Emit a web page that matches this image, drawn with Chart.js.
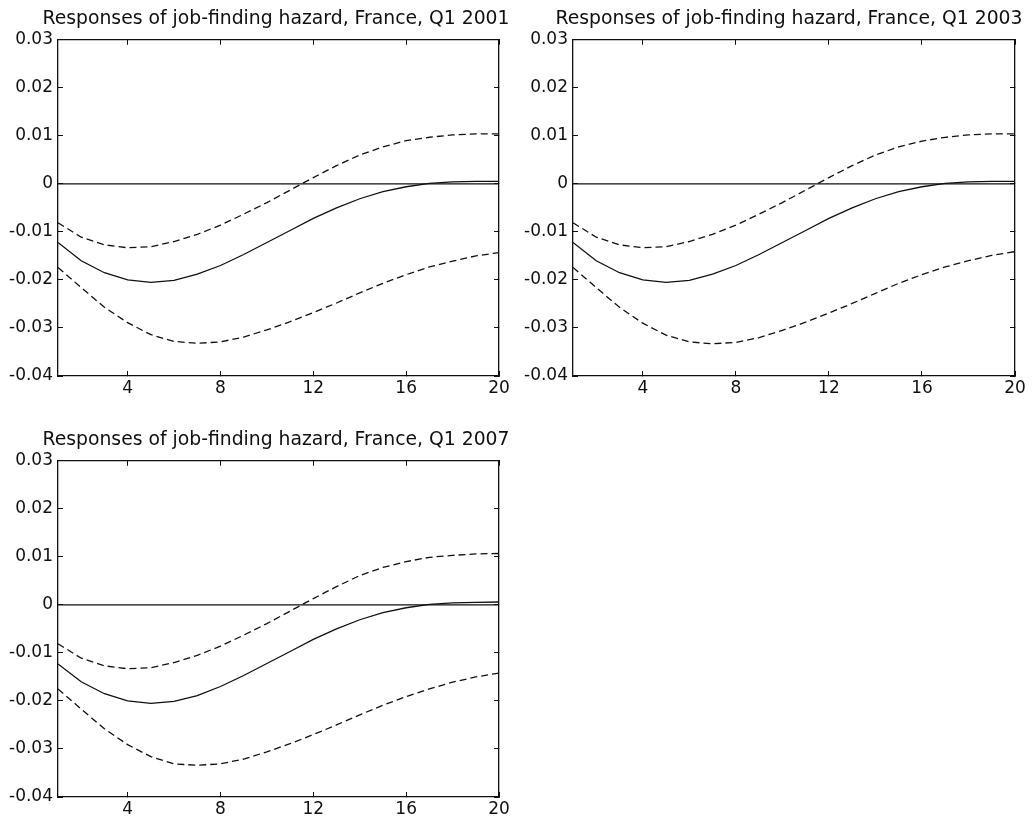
<!DOCTYPE html>
<html>
<head>
<meta charset="utf-8">
<title>Job-finding hazard responses, France</title>
<script src="https://cdn.jsdelivr.net/npm/chart.js@4.4.1/dist/chart.umd.min.js"></script>
<style>
  body { margin: 0; background: #fff; overflow: hidden; }
  canvas.panel { position: absolute; }
</style>
</head>
<body>
<canvas id="q2001" class="panel" style="left:0;top:0" width="552" height="410"></canvas>
<canvas id="q2003" class="panel" style="left:520px;top:0" width="538" height="410"></canvas>
<canvas id="q2007" class="panel" style="left:0;top:420px" width="552" height="398"></canvas>
<script>
// horizon in quarters
const quarters = [1, 2, 3, 4, 5, 6, 7, 8, 9, 10, 11, 12, 13, 14, 15, 16, 17, 18, 19, 20];
const xTickValues = [4, 8, 12, 16, 20];
const yMin = -0.04, yMax = 0.03, yStep = 0.01;

// Q1 2001 vintage: point response and bands
const resp2001  = [-0.0122, -0.0160, -0.0185, -0.0200, -0.0205, -0.0201, -0.0188, -0.0170, -0.0147, -0.0122,
                   -0.0097, -0.0072, -0.0050, -0.0031, -0.0016, -0.0006, 0.0001, 0.0004, 0.0005, 0.0005];
const upper2001 = [-0.0081, -0.0111, -0.0127, -0.0133, -0.0131, -0.0120, -0.0105, -0.0086, -0.0063, -0.0039,
                   -0.0013, 0.0013, 0.0038, 0.0060, 0.0077, 0.0090, 0.0097, 0.0102, 0.0104, 0.0104];
const lower2001 = [-0.0174, -0.0216, -0.0257, -0.0289, -0.0314, -0.0328, -0.0332, -0.0329, -0.0319, -0.0304,
                   -0.0287, -0.0268, -0.0248, -0.0227, -0.0207, -0.0189, -0.0173, -0.0161, -0.0150, -0.0143];

// Q1 2003 vintage
const resp2003  = [-0.0122, -0.0160, -0.0185, -0.0200, -0.0205, -0.0201, -0.0188, -0.0170, -0.0147, -0.0122,
                   -0.0097, -0.0072, -0.0050, -0.0031, -0.0016, -0.0006, 0.0001, 0.0004, 0.0005, 0.0005];
const upper2003 = [-0.0081, -0.0111, -0.0127, -0.0133, -0.0131, -0.0120, -0.0105, -0.0086, -0.0063, -0.0039,
                   -0.0013, 0.0013, 0.0038, 0.0060, 0.0077, 0.0089, 0.0097, 0.0102, 0.0104, 0.0104];
const lower2003 = [-0.0174, -0.0216, -0.0257, -0.0290, -0.0315, -0.0329, -0.0333, -0.0330, -0.0320, -0.0305,
                   -0.0288, -0.0269, -0.0249, -0.0228, -0.0207, -0.0189, -0.0173, -0.0160, -0.0149, -0.0141];

// Q1 2007 vintage
const resp2007  = [-0.0123, -0.0160, -0.0185, -0.0200, -0.0205, -0.0201, -0.0189, -0.0170, -0.0147, -0.0122,
                   -0.0097, -0.0072, -0.0050, -0.0031, -0.0016, -0.0006, 0.0001, 0.0004, 0.0005, 0.0006];
const upper2007 = [-0.0081, -0.0111, -0.0127, -0.0133, -0.0131, -0.0120, -0.0105, -0.0086, -0.0063, -0.0039,
                   -0.0013, 0.0013, 0.0038, 0.0061, 0.0078, 0.0090, 0.0099, 0.0103, 0.0106, 0.0107];
const lower2007 = [-0.0175, -0.0217, -0.0258, -0.0291, -0.0316, -0.0331, -0.0334, -0.0331, -0.0321, -0.0306,
                   -0.0289, -0.0270, -0.0250, -0.0229, -0.0209, -0.0191, -0.0175, -0.0161, -0.0150, -0.0142];

const zeroLine = [{x: 1, y: 0}, {x: 20, y: 0}];

const ink = '#111011';
const tickFont = { family: "'DejaVu Sans', sans-serif", size: 17 };
const titleFont = { family: "'DejaVu Sans', sans-serif", size: 18.8, weight: 'normal' };

function pairs(values) {
  return quarters.map((q, i) => ({ x: q, y: values[i] }));
}

function fmtY(v) {
  return Math.abs(v) < 1e-9 ? '0' : v.toFixed(2);
}

function line(data, dash) {
  return {
    data: data,
    borderColor: ink,
    borderWidth: 1.3,
    borderDash: dash,
    pointRadius: 0,
    tension: 0,
    fill: false
  };
}

// box.left / box.right: gutters either side of the plot (the title centres on the canvas)
function panel(id, title, resp, upper, lower, box) {
  const sideGrid = { drawOnChartArea: false, tickLength: -5, color: ink, lineWidth: 1 };
  const border = { display: true, color: ink, width: 1.3 };
  new Chart(document.getElementById(id), {
    type: 'line',
    data: {
      datasets: [
        line(zeroLine, []),
        line(pairs(upper), [7, 4]),
        line(pairs(resp), []),
        line(pairs(lower), [7, 4])
      ]
    },
    options: {
      responsive: false,
      animation: false,
      events: [],
      layout: { padding: 0 },
      plugins: {
        legend: { display: false },
        tooltip: { enabled: false },
        title: {
          display: true,
          text: title,
          color: ink,
          font: titleFont,
          padding: { top: box.titleTop, bottom: box.titleBottom }
        }
      },
      scales: {
        x: {
          type: 'linear', position: 'bottom', min: 1, max: 20,
          afterBuildTicks: s => { s.ticks = xTickValues.map(v => ({ value: v })); },
          afterFit: s => { s.height = box.bottom; },
          grid: sideGrid, border: border,
          ticks: { color: ink, font: tickFont, padding: 7, maxRotation: 0, autoSkip: false }
        },
        xTop: {
          type: 'linear', position: 'top', min: 1, max: 20,
          afterBuildTicks: s => { s.ticks = xTickValues.map(v => ({ value: v })); },
          afterFit: s => { s.height = 0; },
          grid: sideGrid, border: border,
          ticks: { display: false }
        },
        y: {
          type: 'linear', position: 'left', min: yMin, max: yMax,
          afterFit: s => { s.width = box.left; },
          grid: sideGrid, border: border,
          ticks: { stepSize: yStep, callback: fmtY, color: ink, font: tickFont, padding: 10 }
        },
        yRight: {
          type: 'linear', position: 'right', min: yMin, max: yMax,
          afterFit: s => { s.width = box.right; },
          grid: sideGrid, border: border,
          ticks: { stepSize: yStep, display: false }
        }
      }
    }
  });
}

panel('q2001', 'Responses of job-finding hazard, France, Q1 2001', resp2001, upper2001, lower2001,
      { left: 58, right: 53, bottom: 34, titleTop: 8, titleBottom: 9.2 });
panel('q2003', 'Responses of job-finding hazard, France, Q1 2003', resp2003, upper2003, lower2003,
      { left: 53, right: 43, bottom: 34, titleTop: 8, titleBottom: 9.2 });
panel('q2007', 'Responses of job-finding hazard, France, Q1 2007', resp2007, upper2007, lower2007,
      { left: 58, right: 53, bottom: 21, titleTop: 9, titleBottom: 9.2 });
</script>
</body>
</html>
